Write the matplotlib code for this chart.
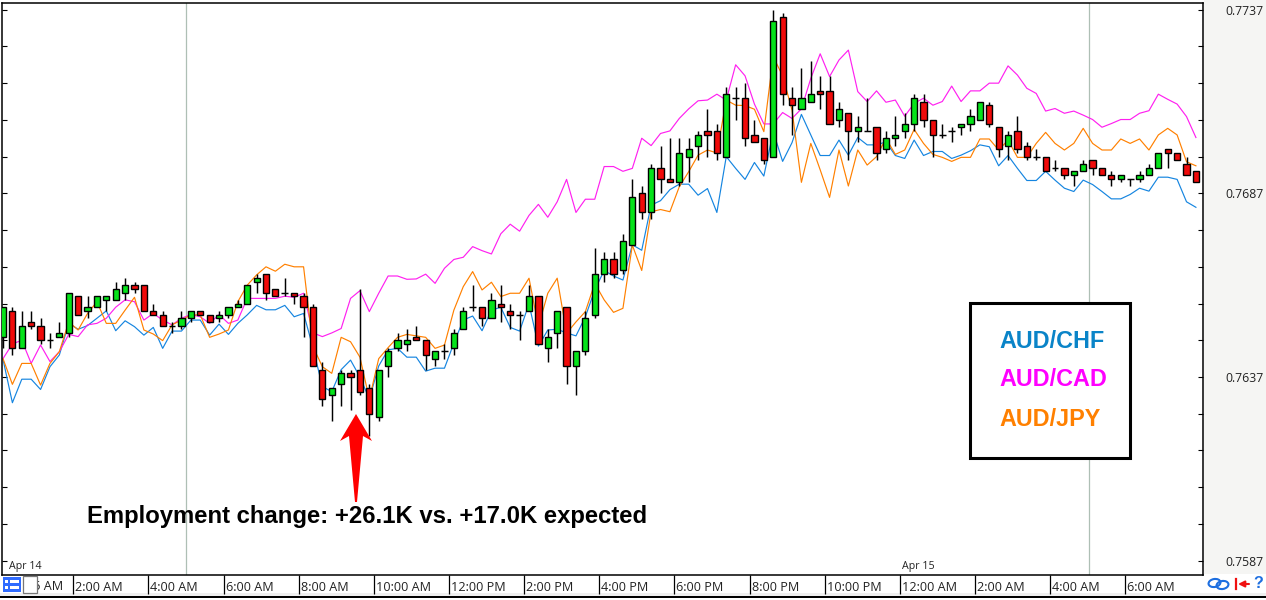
import matplotlib
matplotlib.use("Agg")
import matplotlib.pyplot as plt
from matplotlib.patches import Rectangle, Polygon, Ellipse

opens = [.7648,.7655,.7645,.7652,.7651,.7647,.7648,.7649,.7659,.7655,.7656,.7658,.7658,.7660,.7662,.7662,
.7655,.7654,.7651,.7651,.7653,.7655,.7654,.7653,.7654,.7656,.7657,.7663,.7665,.7661,.7660,.7660,
.7659,.7656,.7639,.7632,.7635,.7638,.7639,.7634,.7626,.7640,.7645,.7646,.7648,.7647,.7642,.7644,
.7645,.7650,.7656,.7656,.7653,.7657,.7655,.7654,.7655,.7659,.7645,.7649,.7656,.7640,.7644,.7654,
.7665,.7669,.7666,.7673,.7687,.7682,.7694,.7691,.7690,.7697,.7700,.7704,.7704,.7697,.7713,.7713,
.7703,.7702,.7697,.7735,.7713,.7710,.7712,.7715,.7715,.7707,.7709,.7704,.7704,.7705,.7699,.7702,
.7704,.7706,.7712,.7707,.7703,.7704,.7705,.7706,.7707,.7711,.7705,.7700,.7704,.7700,.7697,.7697,
.7694,.7694,.7692,.7693,.7696,.7694,.7692,.7691,.7691,.7691,.7692,.7694,.7699,.7698,.7695,.7693]
highs = [.7656,.7656,.7655,.7655,.7653,.7649,.7652,.7660,.7659,.7659,.7659,.7659,.7663,.7664,.7663,.7662,
.7657,.7655,.7652,.7655,.7655,.7655,.7654,.7655,.7656,.7658,.7662,.7665,.7665,.7661,.7664,.7660,
.7660,.7657,.7641,.7634,.7639,.7639,.7661,.7635,.7639,.7645,.7649,.7650,.7651,.7647,.7644,.7646,
.7650,.7656,.7662,.7656,.7660,.7662,.7657,.7655,.7662,.7659,.7650,.7655,.7656,.7644,.7655,.7672,
.7671,.7671,.7676,.7691,.7689,.7695,.7700,.7702,.7702,.7702,.7704,.7710,.7706,.7716,.7716,.7717,
.7707,.7702,.7737,.7736,.7716,.7721,.7723,.7719,.7719,.7712,.7709,.7708,.7713,.7705,.7704,.7708,
.7709,.7714,.7714,.7707,.7706,.7705,.7706,.7710,.7712,.7712,.7705,.7704,.7708,.7701,.7699,.7697,
.7696,.7694,.7693,.7696,.7696,.7694,.7693,.7692,.7691,.7693,.7695,.7698,.7699,.7698,.7697,.7693]
lows = [.7645,.7643,.7645,.7650,.7646,.7645,.7648,.7648,.7654,.7653,.7656,.7655,.7658,.7658,.7660,.7655,
.7654,.7651,.7649,.7650,.7652,.7654,.7652,.7652,.7653,.7656,.7657,.7660,.7658,.7659,.7659,.7657,
.7648,.7640,.7629,.7625,.7629,.7628,.7632,.7621,.7625,.7637,.7644,.7644,.7647,.7639,.7640,.7642,
.7643,.7650,.7655,.7651,.7653,.7652,.7650,.7647,.7655,.7646,.7641,.7645,.7635,.7632,.7643,.7653,
.7663,.7664,.7665,.7673,.7680,.7680,.7687,.7690,.7689,.7690,.7696,.7697,.7696,.7697,.7707,.7700,
.7701,.7695,.7697,.7711,.7703,.7710,.7712,.7710,.7706,.7705,.7696,.7701,.7704,.7696,.7698,.7700,
.7702,.7704,.7705,.7697,.7702,.7701,.7703,.7704,.7707,.7705,.7697,.7696,.7698,.7696,.7696,.7693,
.7693,.7691,.7689,.7693,.7692,.7692,.7689,.7690,.7689,.7690,.7692,.7694,.7694,.7696,.7692,.7690]
closes = [.7656,.7645,.7651,.7651,.7647,.7647,.7649,.7660,.7654,.7656,.7659,.7659,.7661,.7662,.7661,.7655,
.7654,.7651,.7651,.7653,.7655,.7654,.7652,.7654,.7656,.7657,.7662,.7664,.7660,.7659,.7660,.7659,
.7656,.7640,.7631,.7634,.7638,.7637,.7633,.7627,.7639,.7644,.7647,.7647,.7647,.7643,.7644,.7644,
.7649,.7655,.7656,.7653,.7658,.7656,.7654,.7654,.7659,.7646,.7648,.7655,.7640,.7644,.7653,.7665,
.7669,.7665,.7674,.7686,.7682,.7694,.7691,.7690,.7698,.7699,.7703,.7703,.7698,.7714,.7713,.7702,
.7701,.7696,.7734,.7714,.7711,.7713,.7714,.7714,.7706,.7710,.7704,.7705,.7704,.7698,.7702,.7703,
.7706,.7713,.7707,.7703,.7703,.7704,.7706,.7708,.7712,.7706,.7699,.7703,.7699,.7697,.7697,.7693,
.7694,.7692,.7693,.7695,.7694,.7692,.7691,.7692,.7691,.7692,.7694,.7698,.7698,.7696,.7692,.7690]

aud_chf = [.76418,.76300,.76364,.76364,.76336,.76398,.76430,.76516,.76500,.76510,.76530,.76550,.76496,.76523,.76507,.76484,
.76505,.76448,.76495,.76495,.76525,.76525,.76484,.76514,.76486,.76516,.76539,.76565,.76553,.76553,.76565,.76534,
.76543,.76450,.76344,.76330,.76390,.76416,.76370,.76310,.76400,.76444,.76448,.76424,.76424,.76386,.76394,.76394,
.76462,.76525,.76536,.76496,.76552,.76560,.76505,.76495,.76569,.76454,.76498,.76500,.76490,.76482,.76534,.76607,
.76660,.76645,.76634,.76730,.76715,.76838,.76850,.76880,.76895,.76895,.76865,.76883,.76818,.76970,.76938,.76908,
.76954,.76917,.77038,.76957,.77008,.77085,.77029,.76973,.76973,.77015,.76974,.77022,.77002,.77002,.77010,.76973,
.76965,.77015,.76973,.76984,.76984,.76965,.76974,.76986,.77002,.76997,.76945,.76973,.76938,.76905,.76905,.76930,
.76906,.76884,.76875,.76906,.76894,.76875,.76855,.76855,.76867,.76884,.76876,.76914,.76914,.76908,.76847,.76832]
aud_cad = [.76420,.76460,.76470,.76407,.76457,.76412,.76439,.76486,.76480,.76512,.76516,.76530,.76560,.76580,.76575,.76525,
.76543,.76525,.76512,.76530,.76540,.76534,.76516,.76540,.76516,.76525,.76584,.76584,.76584,.76584,.76590,.76587,
.76598,.76490,.76480,.76490,.76502,.76584,.76605,.76548,.76598,.76645,.76645,.76636,.76637,.76650,.76625,.76666,
.76690,.76696,.76725,.76714,.76705,.76760,.76786,.76767,.76810,.76840,.76805,.76847,.76908,.76818,.76854,.76854,
.76943,.76943,.76930,.76938,.77020,.77000,.77033,.77040,.77074,.77100,.77122,.77124,.77140,.77124,.77220,.77190,
.77113,.77059,.77059,.77090,.77074,.77100,.77183,.77250,.77188,.77233,.77260,.77147,.77120,.77149,.77118,.77124,
.77080,.77115,.77129,.77110,.77120,.77162,.77120,.77149,.77149,.77170,.77170,.77217,.77192,.77156,.77142,.77094,
.77101,.77088,.77094,.77083,.77071,.77050,.77060,.77071,.77071,.77088,.77095,.77140,.77126,.77113,.77079,.77022]
aud_jpy = [.76420,.76350,.76407,.76407,.76348,.76407,.76439,.76520,.76498,.76543,.76575,.76516,.76516,.76552,.76587,.76498,
.76487,.76469,.76512,.76525,.76539,.76539,.76478,.76487,.76498,.76575,.76620,.76648,.76670,.76658,.76677,.76670,
.76670,.76453,.76398,.76380,.76478,.76466,.76424,.76310,.76420,.76450,.76478,.76486,.76482,.76478,.76448,.76457,
.76552,.76616,.76657,.76607,.76628,.76589,.76598,.76598,.76639,.76507,.76598,.76639,.76489,.76520,.76548,.76625,
.76580,.76546,.76557,.76729,.76660,.76820,.76826,.76820,.76888,.76929,.76974,.76988,.76980,.77124,.77110,.77109,
.77099,.77038,.77242,.77190,.77097,.76900,.77006,.76934,.76859,.76988,.76890,.76988,.76947,.76970,.77020,.76976,
.76988,.77044,.77006,.76976,.76968,.76957,.76968,.76968,.77018,.77018,.76988,.77015,.76968,.76968,.77006,.77036,
.77006,.76988,.77006,.77047,.77006,.76988,.76988,.77018,.77006,.77018,.76988,.77029,.77047,.77029,.76956,.76945]

x_tick_pos = [7.48 + 8 * k for k in range(15)]
x_tick_labels = ["2:00 AM","4:00 AM","6:00 AM","8:00 AM","10:00 AM","12:00 PM","2:00 PM","4:00 PM",
                 "6:00 PM","8:00 PM","10:00 PM","12:00 AM","2:00 AM","4:00 AM","6:00 AM"]
y_ticks = [0.7587 + 0.001 * k for k in range(16)]
y_labels = {0: "0.7587", 5: "0.7637", 10: "0.7687", 15: "0.7737"}
separators = [19.43, 115.57]
date_marks = [(0.64, "Apr 14"), (95.7, "Apr 15")]
legend_items = [("AUD/CHF", "#0A84C8"), ("AUD/CAD", "#FF00FF"), ("AUD/JPY", "#FF8000")]

W, H = 1266, 600
UI = "Open Sans"
fig = plt.figure(figsize=(W / 100, H / 100), dpi=100, facecolor="white")

def px_axes(z):
    a = fig.add_axes([0, 0, 1, 1], zorder=z)
    a.set_xlim(0, W); a.set_ylim(H, 0); a.axis("off")
    return a

back = px_axes(0)
back.add_patch(Rectangle((1204, 0), 62, 574, fc="#F5F5F3", ec="none"))
back.add_patch(Rectangle((0, 593), W, 3, fc="#EFEFEF", ec="none"))
back.add_patch(Rectangle((0, 596), W, 1.6, fc="black", ec="none"))

L, R, T, B = 1.5, 1203.0, 2.5, 574.5
ax = fig.add_axes([L / W, 1 - B / H, (R - L) / W, (B - T) / H], zorder=1)
PX_PER_I = 9.393
PX_PER_P = 36730.0
ax.set_xlim((L - 3) / PX_PER_I, (R - 3) / PX_PER_I)
ax.set_ylim(0.7637 - (B - 377) / PX_PER_P, 0.7637 + (377 - T) / PX_PER_P)
for s in ax.spines.values():
    s.set_linewidth(1.1)

for xs in separators:
    ax.axvline(xs, color="#AEBFB5", lw=0.9, zorder=1)

xs = list(range(len(opens)))
ax.plot(xs, aud_chf, color="#1585E0", lw=0.85, zorder=2)
ax.plot(xs, aud_cad, color="#FF20F0", lw=0.85, zorder=2)
ax.plot(xs, aud_jpy, color="#FF8000", lw=0.85, zorder=2)

for i, (o, h, l, c) in enumerate(zip(opens, highs, lows, closes)):
    ax.vlines(i, l, h, color="black", lw=1.05, zorder=3)
    if o == c:
        ax.hlines(o, i - 0.36, i + 0.36, color="black", lw=1.05, zorder=4)
    else:
        ax.bar(i, abs(c - o), bottom=min(o, c), width=0.66,
               color="#05E31A" if c > o else "#F00A0A",
               edgecolor="black", linewidth=1.0, zorder=4)

ax.set_yticks(y_ticks)
ax.set_yticklabels([y_labels.get(k, "") for k in range(16)], family=UI, fontsize=8.8, color="#222222")
ax.yaxis.tick_right()
ax.tick_params(axis="y", which="both", direction="in", length=3.6, width=0.8, left=True, right=True,
               labelright=True, pad=16)
ax.set_xticks(x_tick_pos)
ax.set_xticklabels([])
ax.tick_params(axis="x", direction="out", length=13.5, width=0.9)
for xp, lab in zip(x_tick_pos, x_tick_labels):
    ax.annotate(lab, xy=(xp, 0), xycoords=("data", "axes fraction"), xytext=(1.5, -9.4),
                textcoords="offset points", ha="left", va="center", family=UI, fontsize=9.1,
                color="#222222", annotation_clip=False)
for xp, lab in date_marks:
    ax.annotate(lab, xy=(xp, 0), xycoords=("data", "axes fraction"), xytext=(0, 5.5),
                textcoords="offset points", ha="left", va="center", family=UI, fontsize=7.7,
                color="#222222")

top = px_axes(2)
# first, partly covered time label and the toolbar at the bottom
top.text(63, 586, "12:15 AM", ha="right", va="center", family=UI, fontsize=9.1, color="#222222", zorder=0.5)
top.add_patch(Rectangle((0, 575.5), 22, 17.5, fc="white", ec="none", zorder=1))
top.add_patch(Rectangle((22.5, 575.5), 14, 17, fc="white", ec="#777777", lw=0.9, zorder=1))
top.add_patch(Rectangle((3, 577), 18, 15, fc="#2F6BFF", ec="none", zorder=1.1))
for yy in (580, 586):
    top.add_patch(Rectangle((5, yy), 3, 3, fc="white", ec="none", zorder=1.2))
    top.add_patch(Rectangle((10, yy), 9, 3, fc="white", ec="none", zorder=1.2))
top.add_patch(Ellipse((1214.5, 583), 12, 8, fc="none", ec="#1E6FE0", lw=1.5, angle=-10))
top.add_patch(Ellipse((1222.5, 585), 12, 8, fc="none", ec="#1E6FE0", lw=1.5, angle=-10))
top.plot([1236, 1236], [579, 589], color="#F01010", lw=1.6)
top.annotate("", xy=(1238, 584), xytext=(1249, 584),
             arrowprops=dict(arrowstyle="-|>", color="#F01010", lw=1.5, mutation_scale=9, shrinkA=0, shrinkB=0))
top.text(1258.5, 584, "?", ha="center", va="center", color="#1E6FE0", fontsize=11.5,
         family="Liberation Sans", weight="bold")

# legend box
top.add_patch(Rectangle((969.8, 302.8), 160.6, 155.6, fc="white", ec="black", lw=2.2))
for (name, col), yy in zip(legend_items, (341.2, 379.8, 419.2)):
    top.text(999.5, yy, name, color=col, ha="left", va="center", family="Liberation Sans",
             weight="bold", fontsize=16.8)

# annotation
top.add_patch(Polygon([(356, 414), (372, 441), (363, 436), (357, 502), (355, 502), (349, 436), (340, 441)],
                      closed=True, fc="#FF0000", ec="none"))
top.text(87, 517, "Employment change: +26.1K vs. +17.0K expected", ha="left", va="center",
         family="Liberation Sans", weight="bold", fontsize=17.2, color="black")

fig.savefig("out.png", dpi=100)
